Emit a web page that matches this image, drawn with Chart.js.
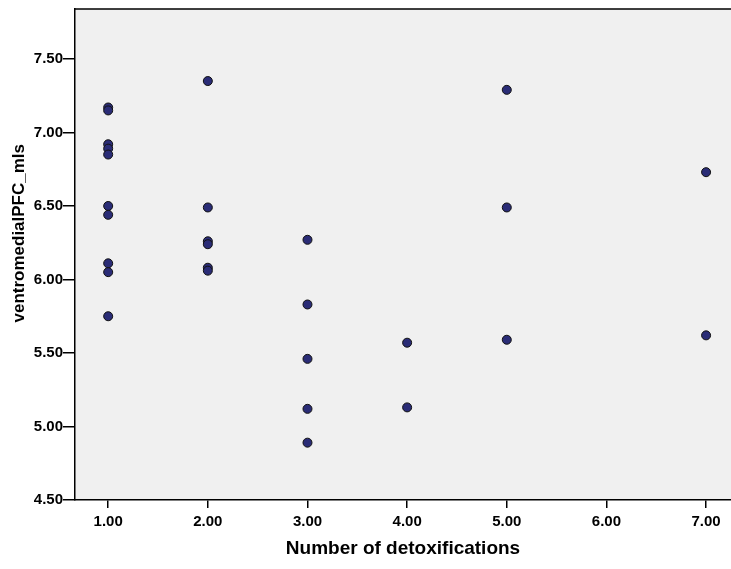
<!DOCTYPE html>
<html>
<head>
<meta charset="utf-8">
<script src="https://cdn.jsdelivr.net/npm/chart.js@4"></script>
<style>
  html, body { margin: 0; padding: 0; background: #ffffff; }
  #wrap { width: 731px; height: 569px; }
</style>
</head>
<body>
<div id="wrap"><canvas id="scatter" width="731" height="569"></canvas></div>
<script>
// --------- Data ---------
const detoxCounts = [
  1, 1, 1, 1, 1, 1, 1, 1, 1, 1,
  2, 2, 2, 2, 2, 2,
  3, 3, 3, 3, 3,
  4, 4,
  5, 5, 5,
  7, 7
];
const vmpfcValues = [
  7.17, 7.15, 6.92, 6.89, 6.85, 6.50, 6.44, 6.11, 6.05, 5.75,
  7.35, 6.49, 6.26, 6.24, 6.08, 6.06,
  6.27, 5.83, 5.46, 5.12, 4.89,
  5.57, 5.13,
  7.29, 6.49, 5.59,
  6.73, 5.62
];
const xTicks = [1, 2, 3, 4, 5, 6, 7];
const yTicks = [4.5, 5.0, 5.5, 6.0, 6.5, 7.0, 7.5];

const points = detoxCounts.map((x, i) => ({ x, y: vmpfcValues[i] }));

const FONT = "'Liberation Sans', Arial, sans-serif";

// plot background + top frame line
const frame = {
  id: "frame",
  beforeDraw(chart) {
    const { ctx, chartArea: a } = chart;
    ctx.save();
    ctx.fillStyle = "#f0f0f0";
    ctx.fillRect(a.left, a.top, a.right - a.left, a.bottom - a.top);
    ctx.strokeStyle = "#000";
    ctx.lineWidth = 1.5;
    ctx.beginPath();
    ctx.moveTo(a.left, a.top);
    ctx.lineTo(a.right, a.top);
    ctx.stroke();
    ctx.restore();
  }
};

new Chart(document.getElementById("scatter"), {
  type: "scatter",
  data: {
    datasets: [{
      data: points,
      pointRadius: 4.5,
      pointHoverRadius: 4.5,
      pointBackgroundColor: "#2a2c76",
      pointBorderColor: "#111111",
      pointBorderWidth: 1
    }]
  },
  options: {
    responsive: false,
    animation: false,
    layout: { autoPadding: false, padding: { top: 5, right: 0, left: 4, bottom: 0 } },
    plugins: { legend: { display: false }, tooltip: { enabled: false } },
    scales: {
      x: {
        type: "linear",
        min: 0.667,
        max: 7.25,
        afterBuildTicks: (s) => { s.ticks = xTicks.map((v) => ({ value: v })); },
        afterFit: (s) => { s.height = 69; },
        border: { color: "#000", width: 1.5 },
        grid: { drawOnChartArea: false, color: "#000", tickLength: 8, lineWidth: 1.5 },
        ticks: {
          color: "#000",
          padding: 5,
          maxRotation: 0,
          font: { family: FONT, size: 15, weight: "bold" },
          callback: (v) => Number(v).toFixed(2)
        },
        title: {
          display: true,
          text: "Number of detoxifications",
          color: "#000",
          padding: { top: 0, bottom: 9 },
          font: { family: FONT, size: 19, weight: "bold" }
        }
      },
      y: {
        type: "linear",
        min: 4.5,
        max: 7.84,
        afterBuildTicks: (s) => { s.ticks = yTicks.map((v) => ({ value: v })); },
        afterFit: (s) => { s.width = 71; },
        border: { color: "#000", width: 1.5 },
        grid: { drawOnChartArea: false, color: "#000", tickLength: 12, lineWidth: 1.5 },
        ticks: {
          color: "#000",
          padding: 0,
          font: { family: FONT, size: 15, weight: "bold" },
          callback: (v) => Number(v).toFixed(2)
        },
        title: {
          display: true,
          // leading spaces nudge the label up, as in the reference
          text: "         ventromedialPFC_mls",
          color: "#000",
          padding: { top: 5, bottom: 0 },
          font: { family: FONT, size: 17, weight: "bold" }
        }
      }
    }
  },
  plugins: [frame]
});
</script>
</body>
</html>
